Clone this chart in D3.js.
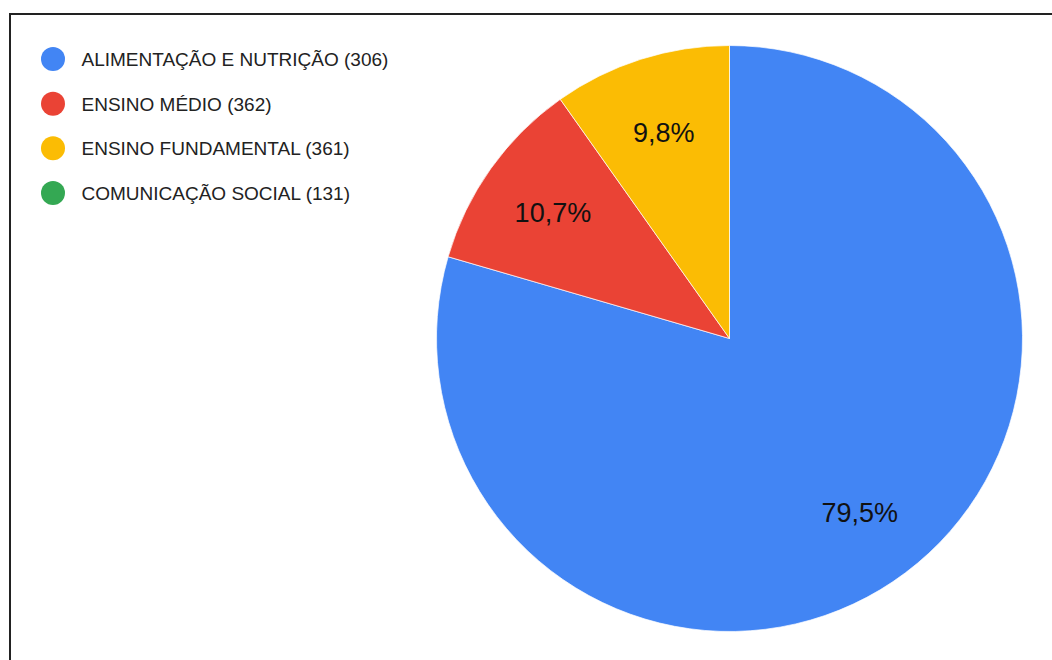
<!DOCTYPE html>
<html>
<head>
<meta charset="utf-8">
<script src="https://cdn.jsdelivr.net/npm/d3@7"></script>
<style>
    body { margin: 0; background: #fff; }
    svg { display: block; font-family: "Liberation Sans", Arial, sans-serif; }
</style>
</head>
<body>
<svg id="chart"></svg>
<script>
const categories = ["ALIMENTAÇÃO E NUTRIÇÃO (306)", "ENSINO MÉDIO (362)", "ENSINO FUNDAMENTAL (361)", "COMUNICAÇÃO SOCIAL (131)"];
const values = [79.5, 10.7, 9.8, 0];
const labels = ["79,5%", "10,7%", "9,8%", ""];
const colors = ["#4285f4", "#ea4335", "#fbbc04", "#34a853"];

class PieChart {
    constructor(svg, width = 1052, height = 660) {
        this.svg = d3.select(svg);
        this.width = width;
        this.height = height;
        this.cx = 729.5;
        this.cy = 338.5;
        this.radius = 293;
    }

    initialize() {
        this.svg.attr("width", this.width).attr("height", this.height);

        // frame, only top/left/right edges show in the crop
        this.svg.append("rect")
            .attr("x", 10).attr("y", 14)
            .attr("width", 1100).attr("height", 1000)
            .attr("fill", "none")
            .attr("stroke", "#222")
            .attr("stroke-width", 2);

        this.container = this.svg.append("g")
            .attr("transform", `translate(${this.cx}, ${this.cy})`);
        this.legend = this.svg.append("g")
            .attr("transform", "translate(53, 59)");
    }

    update() {
        const data = categories.map((c, i) => ({ name: c, value: values[i], label: labels[i], color: colors[i] }));

        const pie = d3.pie().sort(null).value(d => d.value);
        const arc = d3.arc().innerRadius(0).outerRadius(this.radius);
        const labelArc = d3.arc().innerRadius(this.radius * 0.74).outerRadius(this.radius * 0.74);
        const arcs = pie(data).filter(d => d.data.value > 0);

        this.container.selectAll("path")
            .data(arcs)
            .join("path")
            .attr("d", arc)
            .attr("fill", d => d.data.color)
            .attr("stroke", "#fff")
            .attr("stroke-width", 0.7);

        this.container.selectAll("text")
            .data(arcs)
            .join("text")
            .attr("transform", d => `translate(${labelArc.centroid(d)})`)
            .attr("text-anchor", "middle")
            .attr("dy", "0.36em")
            .style("font-size", "27px")
            .attr("fill", "#111")
            .text(d => d.data.label);

        const y = d3.scalePoint().domain(categories).range([0, 134]);

        const rows = this.legend.selectAll("g")
            .data(data)
            .join("g")
            .attr("transform", d => `translate(0, ${y(d.name)})`);

        rows.append("circle")
            .attr("r", 12)
            .attr("fill", d => d.color);

        rows.append("text")
            .attr("x", 28.5)
            .attr("dy", "0.36em")
            .style("font-size", "19px")
            .attr("fill", "#222")
            .text(d => d.name);
    }
}

const chart = new PieChart("#chart");
chart.initialize();
chart.update();
</script>
</body>
</html>
